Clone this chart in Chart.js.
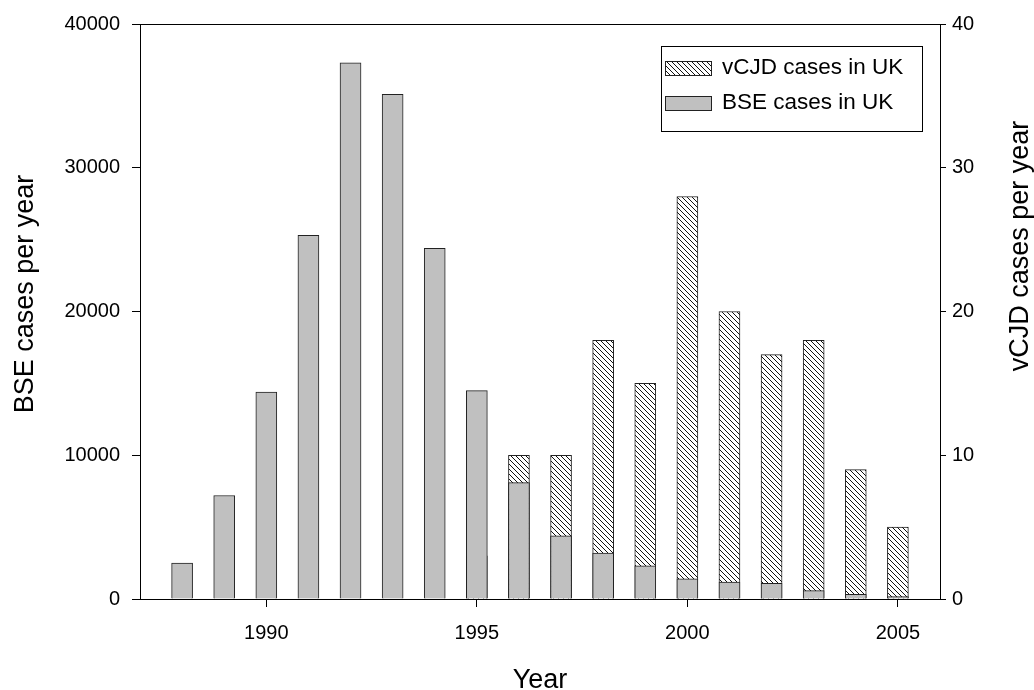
<!DOCTYPE html>
<html>
<head>
<meta charset="utf-8">
<script src="https://cdn.jsdelivr.net/npm/chart.js@4.4.1/dist/chart.umd.min.js"></script>
<style>
    html, body { margin: 0; padding: 0; background: #fff; }
</style>
</head>
<body>
<canvas id="chart" width="1034" height="690"></canvas>
<script>
const years = [1988, 1989, 1990, 1991, 1992, 1993, 1994, 1995, 1996, 1997, 1998, 1999, 2000, 2001, 2002, 2003, 2004, 2005];
const bseCases = [2500, 7200, 14400, 25300, 37300, 35100, 24400, 14500, 8100, 4400, 3200, 2300, 1400, 1180, 1090, 580, 330, 160];
const vcjdCases = [null, null, null, null, null, null, null, 3, 10, 10, 18, 15, 28, 20, 17, 18, 9, 5];
const yearTicks = [1990, 1995, 2000, 2005];

const FONT = "'Liberation Sans', Arial, sans-serif";
Chart.defaults.font.family = FONT;
Chart.defaults.color = "#000";

function makeHatch(){
    const c = document.createElement("canvas");
    c.width = 5;
    c.height = 5;
    const g = c.getContext("2d");
    g.fillStyle = "#fff";
    g.fillRect(0, 0, 5, 5);
    g.fillStyle = "#111";
    for(let i = 0; i < 5; i++){
        g.fillRect(i, i, 1, 1);
    }
    return g.createPattern(c, "repeat");
}
const hatch = makeHatch();

// frame, legend and the two vertical axis titles
const extras = {
    id: "extras",
    afterDraw(chart){
        const { ctx, chartArea: a } = chart;
        ctx.save();
        ctx.strokeStyle = "#000";
        ctx.lineWidth = 1;
        ctx.strokeRect(a.left + 0.5, a.top + 0.5, a.right - a.left, a.bottom - a.top);

        // legend
        const bx = a.right - 279, by = a.top + 22, bw = 261, bh = 85;
        ctx.fillStyle = "#fff";
        ctx.fillRect(bx, by, bw, bh);
        ctx.strokeRect(bx + 0.5, by + 0.5, bw, bh);
        ctx.font = "22.5px " + FONT;
        ctx.textBaseline = "middle";
        ctx.textAlign = "left";
        const rows = chart.data.datasets;
        rows.forEach((ds, i) => {
            const cy = by + 22 + i * 35;
            ctx.fillStyle = ds.backgroundColor;
            ctx.fillRect(bx + 4, cy - 7, 46, 14);
            ctx.strokeStyle = "#222";
            ctx.strokeRect(bx + 4.5, cy - 6.5, 46, 14);
            ctx.fillStyle = "#000";
            ctx.fillText(ds.label, bx + 61, cy);
        });

        ctx.font = "27px " + FONT;
        ctx.textAlign = "center";
        ctx.save();
        ctx.translate(26, 294);
        ctx.rotate(-Math.PI / 2);
        ctx.fillText("BSE cases per year", 0, 0);
        ctx.restore();
        ctx.save();
        ctx.translate(1021, 246);
        ctx.rotate(-Math.PI / 2);
        ctx.fillText("vCJD cases per year", 0, 0);
        ctx.restore();
        ctx.restore();
    }
};

new Chart(document.getElementById("chart"), {
    type: "bar",
    data: {
        labels: years,
        datasets: [{
            label: "vCJD cases in UK",
            data: years.map((y, i) => ({ x: y, y: vcjdCases[i] })),
            yAxisID: "y2",
            backgroundColor: hatch,
            borderColor: "#222",
            borderWidth: 1,
            order: 2,
        }, {
            label: "BSE cases in UK",
            data: years.map((y, i) => ({ x: y, y: bseCases[i] })),
            yAxisID: "y",
            backgroundColor: "#c0c0c0",
            borderColor: "#222",
            borderWidth: 1,
            order: 1,
        }]
    },
    options: {
        responsive: false,
        animation: false,
        devicePixelRatio: 1,
        layout: { padding: { top: 23, left: 0, right: 0, bottom: 0 } },
        datasets: { bar: { grouped: false, barThickness: 21 } },
        plugins: {
            legend: { display: false },
            tooltip: { enabled: false },
        },
        scales: {
            x: {
                type: "linear",
                min: 1987,
                max: 2006,
                offset: false,
                afterBuildTicks: s => { s.ticks = yearTicks.map(v => ({ value: v })); },
                afterFit: s => { s.height = 91; },
                border: { display: false },
                grid: { drawOnChartArea: false, offset: false, tickLength: 8, color: "#000" },
                ticks: { font: { size: 20 }, padding: 14, callback: v => String(v), maxRotation: 0 },
                title: { display: true, text: "Year", font: { size: 27, lineHeight: 1 }, padding: { top: 0, bottom: -4 } }
            },
            y: {
                position: "left",
                min: 0,
                max: 40000,
                afterFit: s => { s.width = 140; },
                border: { display: false },
                grid: { drawOnChartArea: false, tickLength: 8, color: "#000" },
                ticks: { stepSize: 10000, font: { size: 20 }, padding: 12, callback: v => String(v) }
            },
            y2: {
                position: "right",
                min: 0,
                max: 40,
                afterFit: s => { s.width = 94; },
                border: { display: false },
                grid: { drawOnChartArea: false, tickLength: 6, color: "#000" },
                ticks: { stepSize: 10, font: { size: 20 }, padding: 6, callback: v => String(v) }
            }
        }
    },
    plugins: [extras]
});
</script>
</body>
</html>
